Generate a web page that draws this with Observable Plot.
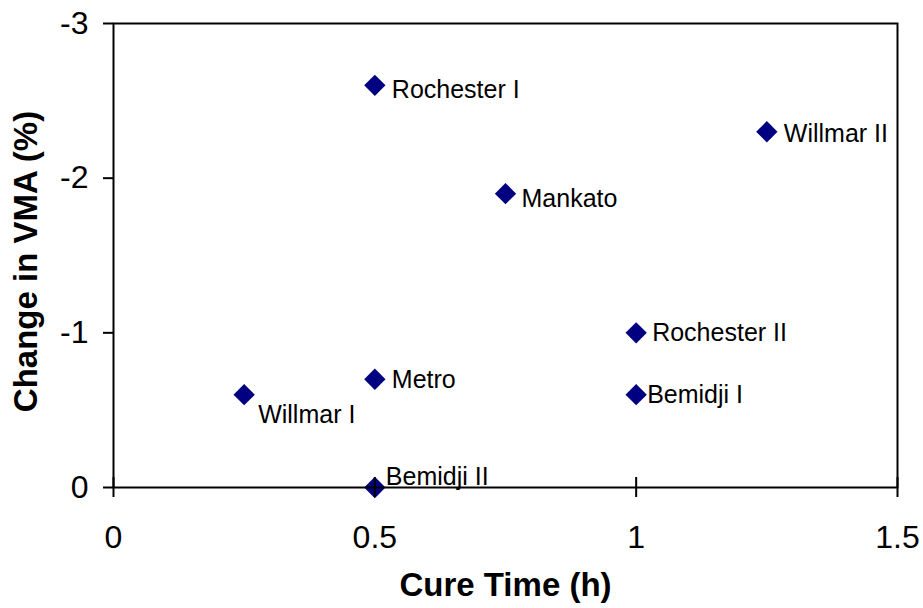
<!DOCTYPE html>
<html><head><meta charset="utf-8">
<script src="https://cdn.jsdelivr.net/npm/d3@7"></script>
<script src="https://cdn.jsdelivr.net/npm/@observablehq/plot@0.6"></script>
<style>html,body{margin:0;padding:0;background:#fff;}</style>
</head><body><div id="chart"></div>
<script>
const sites = ["Willmar I", "Metro", "Bemidji II", "Rochester I", "Mankato", "Willmar II", "Rochester II", "Bemidji I"];
const cureTime = [0.25, 0.5, 0.5, 0.5, 0.75, 1.25, 1.0, 1.0];
const vmaChange = [-0.6, -0.7, 0, -2.6, -1.9, -2.3, -1.0, -0.6];
const xTicks = [0, 0.5, 1, 1.5];
const yTicks = [0, -1, -2, -3];

const data = sites.map((s, i) => ({site: s, x: cureTime[i], y: vmaChange[i]}));

// label placement (pixel offsets from each marker)
const labelOffset = {
  "Willmar I": [14, 20], "Bemidji II": [11, -11], "Bemidji I": [11, 0],
  "Rochester II": [16, 0], "Metro": [17, 1], "Mankato": [16, 5],
  "Rochester I": [17, 5], "Willmar II": [17, 2]
};
const labels = data.map(d => Plot.text([d], {
  x: "x", y: "y", text: "site", textAnchor: "start",
  dx: labelOffset[d.site][0], dy: labelOffset[d.site][1],
  fontSize: 25, fill: "#000"
}));

const chart = Plot.plot({
  width: 923, height: 608,
  marginLeft: 113, marginRight: 26, marginTop: 23, marginBottom: 121,
  x: {domain: [0, 1.5]},
  y: {domain: [0, -3]},
  style: {fontFamily: "'Liberation Sans', Arial, sans-serif", background: "#fff", color: "#000"},
  marks: [
    Plot.dot(data, {x: "x", y: "y", symbol: "diamond2", r: 9.6, fill: "#000080", stroke: "none"}),
    ...labels,
    Plot.frame({stroke: "#000", strokeWidth: 2}),
    Plot.ruleX(xTicks, {x: d => d, y1: 0, y2: 0, insetTop: -10, insetBottom: -10, stroke: "#000", strokeWidth: 2}),
    Plot.axisX({ticks: xTicks, tickSize: 0, tickPadding: 38, fontSize: 32, tickFormat: d => String(d), label: null}),
    Plot.axisY({ticks: yTicks, tickSize: 10, tickPadding: 15, fontSize: 32, tickFormat: d => String(d), label: null, strokeWidth: 2}),
    Plot.text(["Cure Time (h)"], {frameAnchor: "bottom", textAnchor: "middle", lineAnchor: "middle", dy: 98, fontSize: 33, fontWeight: "bold", fill: "#000"}),
    Plot.text(["Change in VMA (%)"], {frameAnchor: "left", textAnchor: "middle", lineAnchor: "middle", rotate: -90, dx: -87, dy: 6, fontSize: 33, fontWeight: "bold", fill: "#000"})
  ]
});
document.getElementById("chart").appendChild(chart);
</script>
</body></html>
